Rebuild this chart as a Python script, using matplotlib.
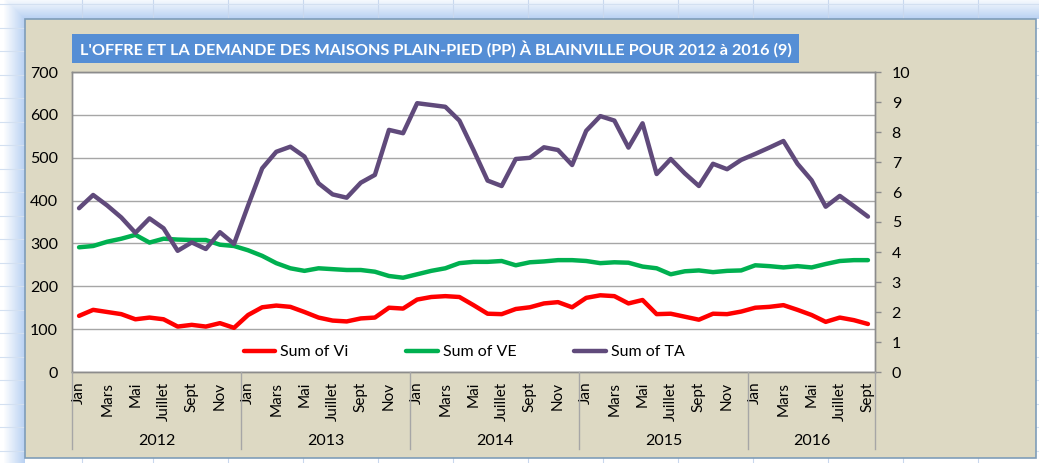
import numpy as np
import matplotlib
matplotlib.use("Agg")
import matplotlib.pyplot as plt
from matplotlib.patches import Rectangle
from matplotlib.lines import Line2D
from matplotlib.transforms import blended_transform_factory

plt.rcParams['font.family'] = ['Lato', 'DejaVu Sans']

# ---------------- data ----------------
years = ["2012", "2013", "2014", "2015", "2016"]
months_per_year = [12, 12, 12, 12, 9]
shown_month_labels = ["Jan", "Mars", "Mai", "Juillet", "Sept", "Nov"]

vi = [131, 145, 140, 135, 123, 127, 123, 106, 110, 106, 114, 103,
      133, 151, 155, 152, 140, 127, 120, 118, 125, 127, 150, 148,
      169, 175, 177, 175, 156, 136, 135, 147, 151, 160, 163, 151,
      173, 179, 177, 160, 168, 135, 136, 129, 122, 136, 135, 141,
      150, 152, 156, 145, 133, 117, 127, 121, 112]
ve = [291, 294, 304, 311, 320, 302, 311, 309, 308, 308, 297, 294,
      284, 271, 254, 242, 236, 242, 240, 238, 238, 234, 224, 220,
      228, 236, 242, 254, 257, 257, 259, 249, 256, 258, 261, 261,
      259, 254, 256, 255, 246, 242, 228, 235, 237, 233, 236, 237,
      249, 247, 244, 247, 244, 252, 259, 261, 261]
ta = [5.46, 5.90, 5.55, 5.15, 4.64, 5.12, 4.79, 4.04, 4.32, 4.10, 4.66, 4.27,
      5.55, 6.79, 7.34, 7.51, 7.18, 6.29, 5.92, 5.81, 6.31, 6.57, 8.07, 7.96,
      8.96, 8.90, 8.84, 8.38, 7.40, 6.38, 6.20, 7.10, 7.14, 7.49, 7.40, 6.90,
      8.04, 8.53, 8.38, 7.48, 8.29, 6.60, 7.10, 6.62, 6.20, 6.94, 6.76, 7.07,
      7.27, 7.48, 7.70, 6.94, 6.39, 5.51, 5.87, 5.53, 5.18]

title = "L'OFFRE ET LA DEMANDE DES MAISONS PLAIN-PIED (PP) À BLAINVILLE POUR 2012 à 2016 (9)"

W, H = 1039, 463
fig = plt.figure(figsize=(W / 100, H / 100), dpi=100)
fig.patch.set_facecolor("white")

def fx(px):
    return px / W

def fy(py):
    return 1 - py / H

# ---------- spreadsheet-like background ----------
bg = fig.add_axes([0, 0, 1, 1], zorder=-10)
bg.set_xlim(0, W)
bg.set_ylim(H, 0)
bg.set_axis_off()
img = np.ones((H, W, 3))
glow = np.array([0.66, 0.78, 0.94])
yy, xx = np.mgrid[0:H, 0:W]
dx = np.clip(25 - xx, 0, None)
dy = np.clip(19 - yy, 0, None)
d = np.maximum(dx, dy).astype(float)
mask = (d > 0)
t = np.clip(1 - d / 22.0, 0, 1)
for c in range(3):
    ch = img[:, :, c]
    ch[mask] = 1 - (1 - glow[c]) * t[mask] * 0.85
bg.imshow(img, extent=(0, W, H, 0), aspect="auto", zorder=0)
for xv in [82, 153, 228, 303, 378, 453, 528, 603, 678, 753, 828, 903, 978]:
    bg.plot([xv, xv], [0, H], color="#C9D8EE", lw=0.8, zorder=1)
for yv in np.arange(4, H, 23.5):
    bg.plot([0, W], [yv, yv], color="#D3E0F1", lw=0.8, zorder=1)

# chart area
bg.add_patch(Rectangle((25, 19), 1036 - 25, 458 - 19, facecolor="#DDD9C3",
                       edgecolor="#7F9DB9", lw=1.2, zorder=2))

# title box
bg.add_patch(Rectangle((72, 34), 799 - 72, 63 - 34, facecolor="#558ED5",
                       edgecolor="none", zorder=3))
ttl = bg.text((72 + 799) / 2, 49, title, color="white", fontsize=12,
              fontweight="bold", ha="center", va="center", zorder=4)
fig.canvas.draw()
tw = ttl.get_window_extent().width
ttl.set_fontsize(12 * 714.0 / tw)

# ---------- main axes ----------
L, R, T, B = 72, 875, 72, 372
ax = fig.add_axes([fx(L), fy(B), fx(R - L), (B - T) / H])
ax.set_facecolor("white")
n = len(vi)
x = np.arange(n)
ax.set_xlim(-0.5, n - 0.5)
ax.set_ylim(0, 700)
ax.set_yticks(np.arange(0, 701, 100))
ax.yaxis.grid(True, color="#A6A6A6", lw=1.0)
ax.set_axisbelow(True)
ax.tick_params(axis="y", length=0, pad=10, labelsize=11.5)
for s in ax.spines.values():
    s.set_color("#8C8C8C")
    s.set_linewidth(1.0)

l1, = ax.plot(x, vi, color="#FF0000", lw=3.2, label="Sum of Vi", solid_capstyle="round", zorder=3)
l2, = ax.plot(x, ve, color="#00B050", lw=3.2, label="Sum of VE", solid_capstyle="round", zorder=3)

ax2 = ax.twinx()
ax2.set_ylim(0, 10)
ax2.set_yticks(np.arange(0, 11, 1))
l3, = ax2.plot(x, ta, color="#604A7B", lw=3.2, label="Sum of TA", solid_capstyle="round", zorder=3)
ax2.tick_params(axis="y", length=4, width=1, color="#8C8C8C", pad=8, labelsize=11.5)
for s in ax2.spines.values():
    s.set_color("#8C8C8C")
    s.set_linewidth(1.0)

# month tick labels (every other month)
pos, labs = [], []
start = 0
for yi, nm in enumerate(months_per_year):
    for k in range(0, nm, 2):
        pos.append(start + k)
        labs.append(shown_month_labels[k // 2])
    start += nm
ax.set_xticks(pos)
ax.set_xticklabels(labs, rotation=90, fontsize=11)
ax.tick_params(axis="x", length=0, pad=7)

# year separators and labels
trans = blended_transform_factory(ax.transData, fig.transFigure)
bounds = [-0.5]
for nm in months_per_year:
    bounds.append(bounds[-1] + nm)
for b in bounds:
    fig.add_artist(Line2D([b, b], [fy(372), fy(449)], transform=trans,
                          color="#A6A6A6", lw=1.0))
for i, yr in enumerate(years):
    cx = (bounds[i] + bounds[i + 1]) / 2
    fig.text(cx, fy(441), yr, transform=trans, ha="center", va="center", fontsize=11.5)

# legend
leg = ax.legend(handles=[l1, l2, l3], loc="center", ncol=3, frameon=False,
                bbox_to_anchor=(fx(464), fy(352)), bbox_transform=fig.transFigure,
                fontsize=11.5, handlelength=2.0, handletextpad=0.3, columnspacing=3.6)

fig.savefig("out.png", dpi=100)
